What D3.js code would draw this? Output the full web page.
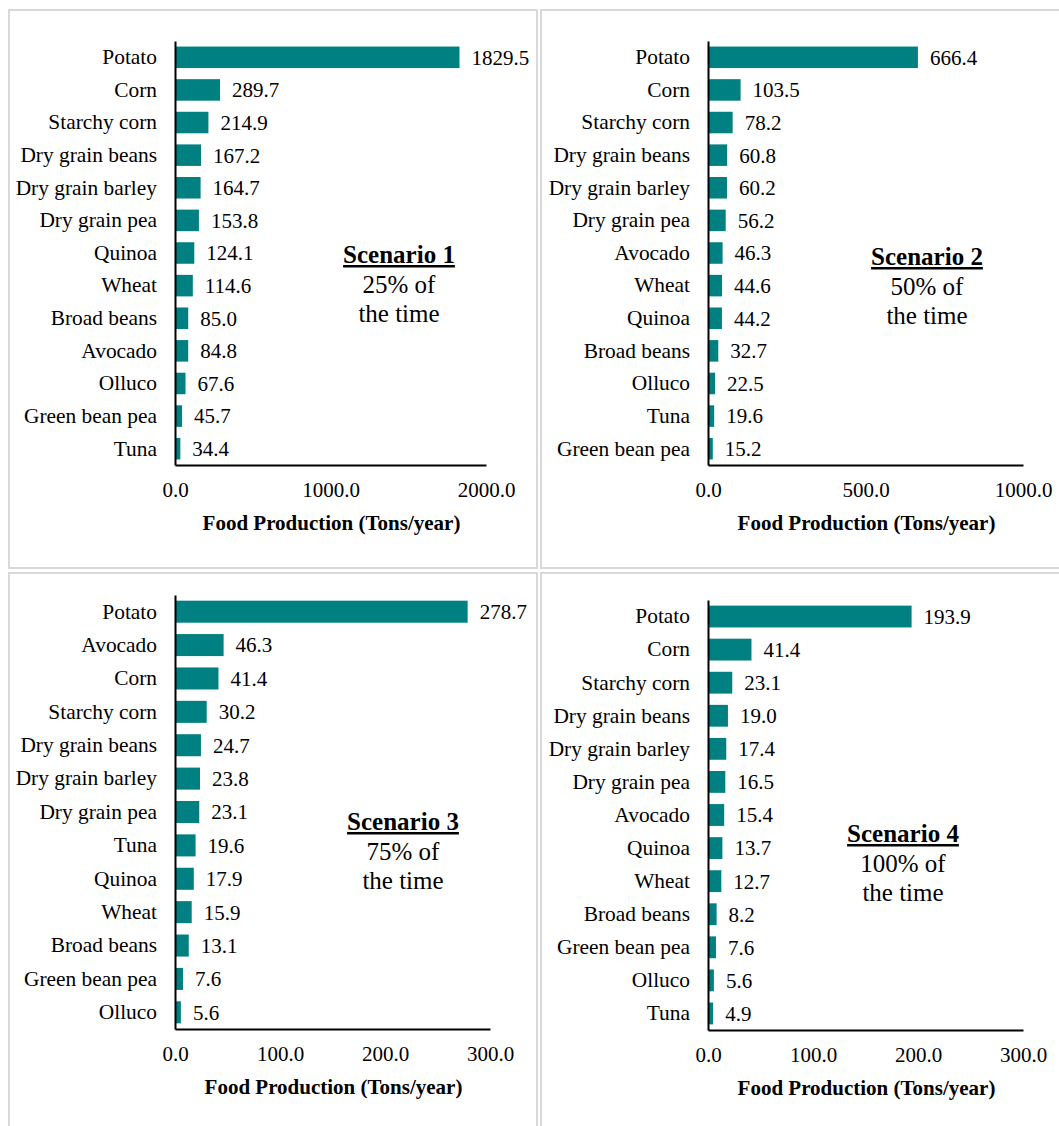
<!DOCTYPE html>
<html>
<head>
<meta charset="utf-8">
<script src="https://cdn.jsdelivr.net/npm/d3@7"></script>
<style>
    body { margin: 0; background: #fff; }
    svg { display: block; font-family: "Liberation Serif", "Times New Roman", serif; }
    .tick text { font-size: 21px; fill: #000; }
    .yAxis .tick text { font-size: 21.4px; }
    .domain { stroke: #000; stroke-width: 2px; }
    .valLabel { font-size: 21px; fill: #000; }
    .axisTitle { font-size: 21px; font-weight: bold; fill: #000; }
    .scen { font-size: 25px; fill: #000; text-anchor: middle; }
</style>
</head>
<body>
<div id="chart"></div>
<script>
    // data
    const crops1 = ["Potato", "Corn", "Starchy corn", "Dry grain beans", "Dry grain barley", "Dry grain pea", "Quinoa", "Wheat", "Broad beans", "Avocado", "Olluco", "Green bean pea", "Tuna"];
    const values1 = [1829.5, 289.7, 214.9, 167.2, 164.7, 153.8, 124.1, 114.6, 85.0, 84.8, 67.6, 45.7, 34.4];

    const crops2 = ["Potato", "Corn", "Starchy corn", "Dry grain beans", "Dry grain barley", "Dry grain pea", "Avocado", "Wheat", "Quinoa", "Broad beans", "Olluco", "Tuna", "Green bean pea"];
    const values2 = [666.4, 103.5, 78.2, 60.8, 60.2, 56.2, 46.3, 44.6, 44.2, 32.7, 22.5, 19.6, 15.2];

    const crops3 = ["Potato", "Avocado", "Corn", "Starchy corn", "Dry grain beans", "Dry grain barley", "Dry grain pea", "Tuna", "Quinoa", "Wheat", "Broad beans", "Green bean pea", "Olluco"];
    const values3 = [278.7, 46.3, 41.4, 30.2, 24.7, 23.8, 23.1, 19.6, 17.9, 15.9, 13.1, 7.6, 5.6];

    const crops4 = ["Potato", "Corn", "Starchy corn", "Dry grain beans", "Dry grain barley", "Dry grain pea", "Avocado", "Quinoa", "Wheat", "Broad beans", "Green bean pea", "Olluco", "Tuna"];
    const values4 = [193.9, 41.4, 23.1, 19.0, 17.4, 16.5, 15.4, 13.7, 12.7, 8.2, 7.6, 5.6, 4.9];

    const ticks1 = [0, 1000, 2000];
    const ticks2 = [0, 500, 1000];
    const ticks3 = [0, 100, 200, 300];
    const ticks4 = [0, 100, 200, 300];

    const scenarioNames = ["Scenario 1", "Scenario 2", "Scenario 3", "Scenario 4"];
    const scenarioShares = ["25% of", "50% of", "75% of", "100% of"];

    const axisTitle = "Food Production (Tons/year)";

    let svg = d3.select("#chart")
        .append("svg")
        .attr("width", 1059)
        .attr("height", 1126);

    // panel frames
    let frames = [
        { x: 9, y: 10, w: 528, h: 558 },
        { x: 541, y: 10, w: 530, h: 558 },
        { x: 9, y: 573, w: 528, h: 600 },
        { x: 541, y: 573, w: 530, h: 600 }
    ];
    svg.selectAll(".frame")
        .data(frames)
        .join("rect")
        .attr("class", "frame")
        .attr("x", d => d.x)
        .attr("y", d => d.y)
        .attr("width", d => d.w)
        .attr("height", d => d.h)
        .attr("fill", "none")
        .attr("stroke", "#d9d9d9")
        .attr("stroke-width", 2);

    function drawPanel(crops, values, ticks, lay, name, share) {
        let data = crops.map((c, i) => ({ crop: c, value: values[i] }));

        let x = d3.scaleLinear()
            .domain([0, ticks[ticks.length - 1]])
            .range([lay.x0, lay.x1]);

        let y = d3.scaleBand()
            .domain(crops)
            .range([lay.yTop, lay.yBot])
            .paddingInner(0.34)
            .paddingOuter(0.17);

        let g = svg.append("g");

        // bars
        g.selectAll("rect")
            .data(data)
            .join("rect")
            .attr("x", x(0))
            .attr("y", d => y(d.crop))
            .attr("width", d => x(d.value) - x(0))
            .attr("height", y.bandwidth())
            .attr("fill", "#008080");

        // value labels
        g.selectAll(".valLabel")
            .data(data)
            .join("text")
            .attr("class", "valLabel")
            .attr("x", d => x(d.value) + 12)
            .attr("y", d => y(d.crop) + y.bandwidth() / 2)
            .attr("dy", "0.35em")
            .text(d => d3.format(".1f")(d.value));

        // x axis
        g.append("g")
            .attr("transform", `translate(0, ${lay.yBot})`)
            .call(d3.axisBottom(x).tickValues(ticks).tickSize(0).tickPadding(17).tickFormat(d3.format(".1f")))
            .attr("font-family", null)
            .attr("font-size", null);

        // y axis
        g.append("g")
            .attr("class", "yAxis")
            .attr("transform", `translate(${lay.x0}, 0)`)
            .call(d3.axisLeft(y).tickSize(0).tickPadding(18))
            .attr("font-family", null)
            .attr("font-size", null);

        svg.selectAll(".domain").attr("fill", "none");

        // axis title
        g.append("text")
            .attr("class", "axisTitle")
            .attr("text-anchor", "middle")
            .attr("x", (lay.x0 + lay.x1) / 2 + 1)
            .attr("y", lay.yBot + 65)
            .text(axisTitle);

        // scenario note
        g.append("text")
            .attr("class", "scen")
            .attr("x", lay.sx)
            .attr("y", lay.sy)
            .style("font-weight", "bold")
            .style("text-decoration", "underline")
            .text(name);
        g.append("text")
            .attr("class", "scen")
            .attr("x", lay.sx)
            .attr("y", lay.sy + 30)
            .text(share);
        g.append("text")
            .attr("class", "scen")
            .attr("x", lay.sx)
            .attr("y", lay.sy + 59)
            .text("the time");
    }

    drawPanel(crops1, values1, ticks1, { x0: 175, x1: 486, yTop: 41, yBot: 465, sx: 399, sy: 263 }, scenarioNames[0], scenarioShares[0]);
    drawPanel(crops2, values2, ticks2, { x0: 708, x1: 1023, yTop: 41, yBot: 465, sx: 927, sy: 265 }, scenarioNames[1], scenarioShares[1]);
    drawPanel(crops3, values3, ticks3, { x0: 175, x1: 490, yTop: 595, yBot: 1029, sx: 403, sy: 830 }, scenarioNames[2], scenarioShares[2]);
    drawPanel(crops4, values4, ticks4, { x0: 708, x1: 1023, yTop: 600, yBot: 1030, sx: 903, sy: 842 }, scenarioNames[3], scenarioShares[3]);
</script>
</body>
</html>
